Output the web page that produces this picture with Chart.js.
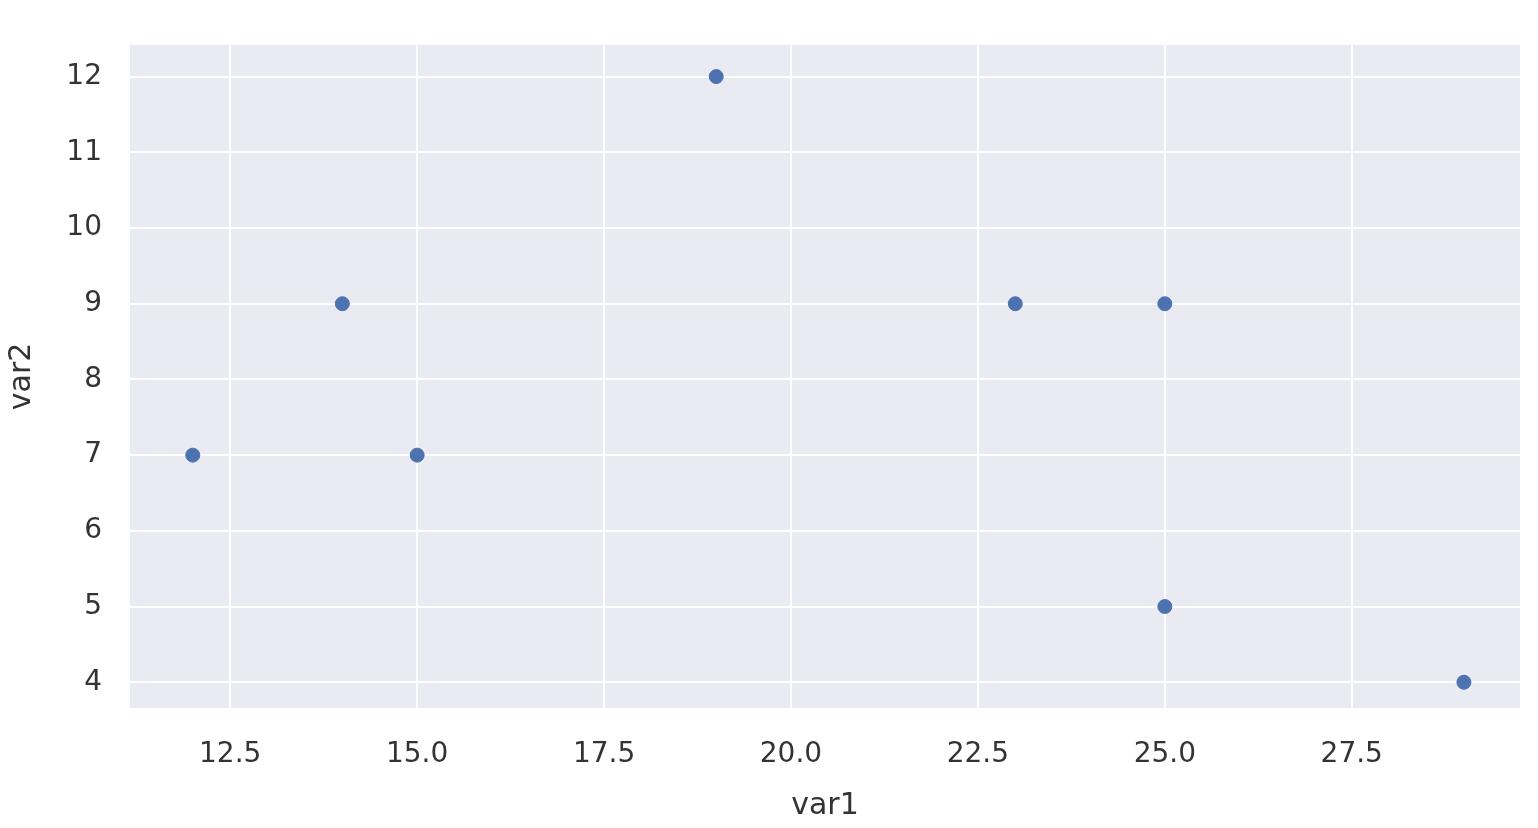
<!DOCTYPE html>
<html><head><meta charset="utf-8">
<script src="https://cdn.jsdelivr.net/npm/chart.js@4/dist/chart.umd.min.js"></script>
<style>html,body{margin:0;padding:0;background:#fff}#w{width:1538px;height:828px}</style>
</head><body><div id="w"><canvas id="c"></canvas></div>
<script>
const var1 = [12, 14, 15, 19, 23, 25, 25, 29];
const var2 = [7, 9, 7, 12, 9, 9, 5, 4];
const xTicks = [12.5, 15, 17.5, 20, 22.5, 25, 27.5];
const yTicks = [4, 5, 6, 7, 8, 9, 10, 11, 12];
const bg = {id:'bg', beforeDraw(ch){const a=ch.chartArea,c=ch.ctx;c.save();c.fillStyle='#eaeaf2';c.fillRect(a.left,a.top,a.right-a.left,a.bottom-a.top);c.restore();}};
const font = {family:'DejaVu Sans', size:28};
new Chart(document.getElementById('c'), {
  type:'scatter',
  data:{datasets:[{data:var1.map((x,i)=>({x, y:var2[i]})), backgroundColor:'#4c72b0', borderColor:'#4c72b0', pointRadius:7, pointHoverRadius:7}]},
  options:{responsive:true, maintainAspectRatio:false, animation:false,
    layout:{padding:{top:10,right:18,left:0,bottom:0}},
    plugins:{legend:{display:false}, tooltip:{enabled:false}},
    scales:{
      x:{type:'linear', min:11.16, max:29.75,
        afterBuildTicks(s){s.ticks=xTicks.map(v=>({value:v}));},
        afterFit(s){s.height=120;},
        grid:{color:'#ffffff', lineWidth:2, drawTicks:false}, border:{display:false},
        ticks:{font, color:'#333', padding:30, callback:v=>v.toFixed(1), maxRotation:0},
        title:{display:true, text:'var1', font:{family:'DejaVu Sans', size:30}, color:'#333', padding:{top:0}}},
      y:{type:'linear', min:3.66, max:12.42,
        afterBuildTicks(s){s.ticks=yTicks.map(v=>({value:v}));},
        afterFit(s){s.width=130;},
        grid:{color:'#ffffff', lineWidth:2, drawTicks:false}, border:{display:false},
        ticks:{font, color:'#333', padding:28},
        title:{display:true, text:'var2', font:{family:'DejaVu Sans', size:30}, color:'#333', padding:{bottom:0}}}
    }},
  plugins:[bg]
});
</script></body></html>
